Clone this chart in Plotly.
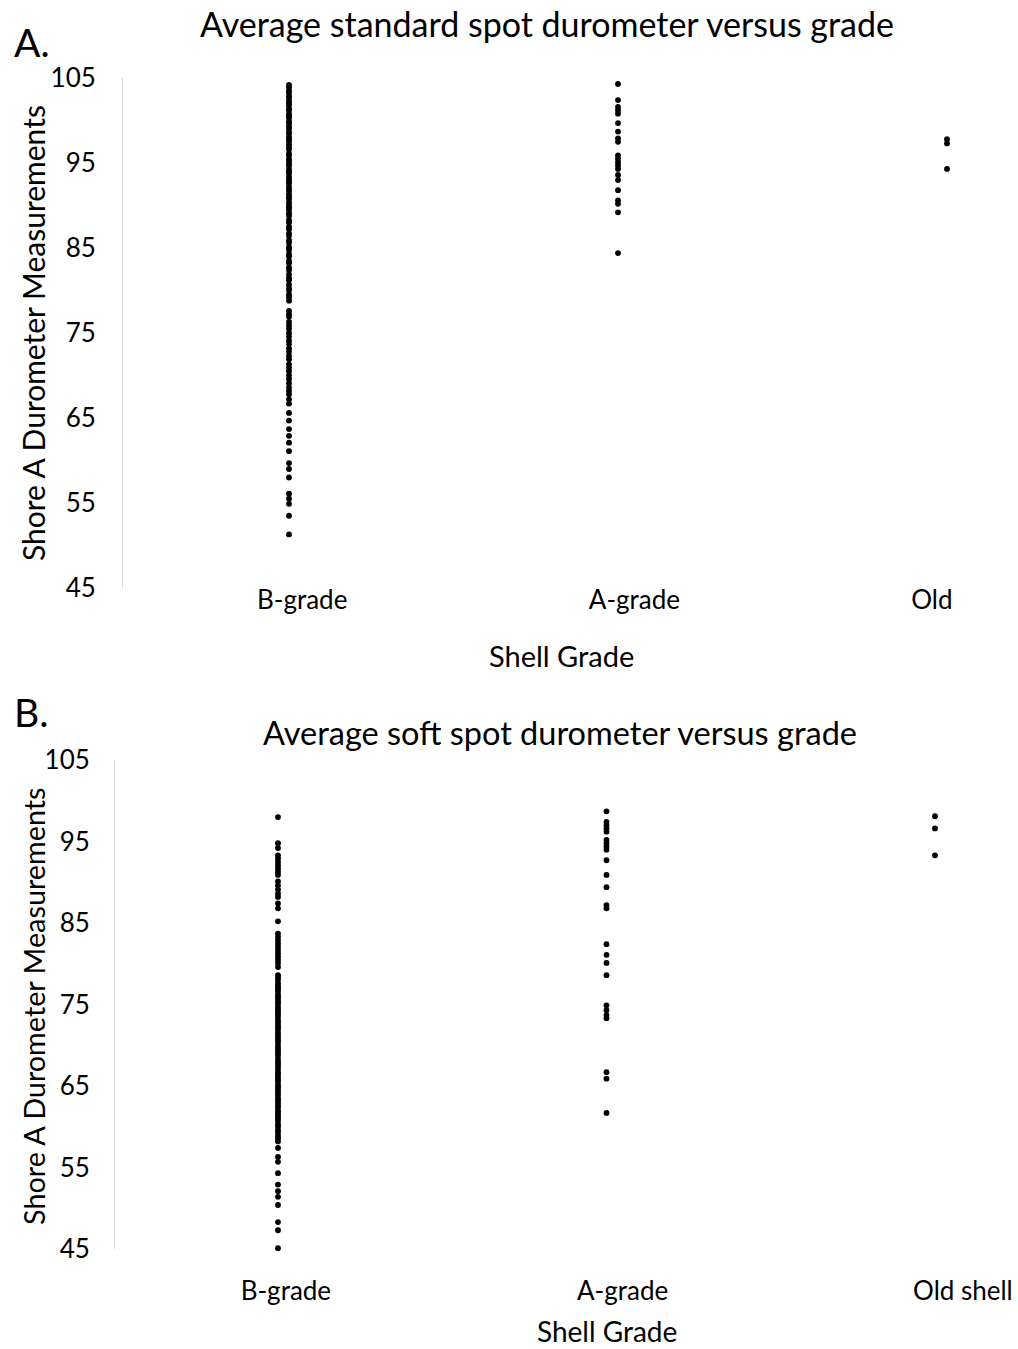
import plotly.graph_objects as go

# ---------------- data ----------------
categories_a = ["B-grade", "A-grade", "Old"]
categories_b = ["B-grade", "A-grade", "Old shell"]

# Panel A: average standard spot durometer
std_b_grade = [
    104.2, 103.9, 103.5, 103.3, 102.9, 102.7, 102.3, 102.1, 101.8, 101.4,
    101.2, 100.8, 100.5, 100.3, 99.9, 99.7, 99.3, 99.1, 98.7, 98.5,
    98.1, 97.8, 97.6, 97.2, 96.9, 96.6, 96.1, 95.9, 95.5, 95.2,
    94.9, 94.7, 94.3, 94.0, 93.8, 93.4, 93.1, 92.8, 92.6, 92.2,
    91.9, 91.7, 91.3, 91.0, 90.8, 90.4, 90.1, 89.8, 89.5, 89.1,
    88.8, 88.3, 88.0, 87.5, 87.2, 86.7, 86.4, 85.9, 85.6, 85.1,
    84.8, 84.3, 84.0, 83.5, 83.2, 82.7, 82.4, 81.9, 81.5, 81.2,
    80.7, 80.3, 80.0, 79.5, 79.2, 78.8,
    77.6, 77.2, 76.9, 76.3, 75.9, 75.5, 75.0, 74.6, 74.1, 73.7,
    73.2, 72.8, 72.3, 71.9, 71.3, 70.9, 70.5, 70.0, 69.6, 69.1,
    68.6, 68.2, 67.8, 67.2, 66.7,
    65.6, 64.7, 63.7, 62.9, 62.1, 61.1, 59.7, 59.0, 58.0, 56.1,
    55.5, 54.9, 53.5, 51.3,
]
std_a_grade = [
    104.3, 102.4, 101.6, 101.2, 100.8, 99.7, 98.7, 97.9, 97.5, 95.9,
    95.5, 95.1, 94.7, 94.3, 93.6, 93.0, 91.8, 90.6, 90.2, 89.2, 84.4,
]
std_old = [97.8, 97.3, 94.3]

# Panel B: average soft spot durometer
soft_b_grade = [
    98.0, 94.8, 94.2, 93.3, 92.9, 92.5, 92.1, 91.7, 91.3, 90.9,
    90.1, 89.6, 89.1, 88.6, 88.2, 87.4, 86.8, 85.2,
    83.7, 83.3, 82.9, 82.5, 82.1, 81.7, 81.3, 80.9, 80.5, 80.1, 79.6,
    78.6, 78.3, 78.0, 77.6, 77.3, 77.0, 76.7, 76.3, 76.0, 75.7,
    75.4, 75.1, 74.7, 74.4, 74.1, 73.8, 73.5, 73.1, 72.8, 72.5,
    72.2, 71.9, 71.5, 71.2, 70.9, 70.6, 70.3, 69.9, 69.6, 69.3,
    69.0, 68.7, 68.3, 68.0, 67.7, 67.4, 67.1, 66.7, 66.4, 66.1,
    65.8, 65.5, 65.1, 64.8, 64.5, 64.2, 63.9, 63.5, 63.2, 62.9,
    62.6, 62.3, 61.9, 61.6, 61.3, 61.0, 60.7, 60.3, 60.0, 59.6,
    59.3, 58.9, 58.6, 58.2,
    57.4, 56.3, 55.7, 54.3, 52.9, 52.1, 51.4, 50.4, 48.3, 47.3, 45.1,
]
soft_a_grade = [
    98.7, 97.4, 97.0, 96.6, 96.2, 95.2, 94.8, 94.4, 94.0, 92.7,
    90.9, 89.4, 87.2, 86.8, 82.4, 81.1, 80.1, 78.6, 74.9, 74.3,
    73.7, 73.3, 66.7, 65.9, 61.7,
]
soft_old = [98.1, 96.6, 93.3]

# ---------------- layout helpers ----------------
W, H = 1018, 1349
FONT = "Lato, 'Open Sans', sans-serif"


def px(x):
    return x / W


def py(y):
    return 1 - y / H


fig = go.Figure()

marker = dict(color="black", size=5.8, line=dict(width=0))

panel_a = [std_b_grade, std_a_grade, std_old]
panel_b = [soft_b_grade, soft_a_grade, soft_old]

for i, vals in enumerate(panel_a):
    fig.add_trace(go.Scatter(
        x=[i + 1] * len(vals), y=vals, mode="markers", marker=marker,
        xaxis="x", yaxis="y", showlegend=False, name=categories_a[i],
        cliponaxis=False))

for i, vals in enumerate(panel_b):
    fig.add_trace(go.Scatter(
        x=[i + 1] * len(vals), y=vals, mode="markers", marker=marker,
        xaxis="x2", yaxis="y2", showlegend=False, name=categories_b[i],
        cliponaxis=False))

tickfont = dict(family=FONT, size=26, color="black")

ax_common = dict(showgrid=False, zeroline=False, ticks="", automargin=False)

fig.update_layout(
    template="none",
    width=W, height=H,
    margin=dict(l=0, r=0, t=0, b=0, autoexpand=False),
    paper_bgcolor="white", plot_bgcolor="white",
    font=dict(family=FONT, color="black"),
    xaxis=dict(
        domain=[px(123), 1], range=[0.4954, 3.2158], anchor="y",
        tickmode="array", tickvals=[1.04, 2.05, 2.954], ticktext=categories_a,
        tickfont=tickfont, showline=False, ticklabelstandoff=-6, **ax_common),
    yaxis=dict(
        domain=[py(588), py(78)], range=[45, 105], anchor="x",
        tickmode="linear", tick0=45, dtick=10, tickfont=tickfont,
        showline=True, linecolor="#d9d9d9", linewidth=1,
        ticklabelstandoff=21, **ax_common),
    xaxis2=dict(
        domain=[px(115), 1], range=[0.5038, 3.2527], anchor="y2",
        tickmode="array", tickvals=[1.024, 2.049, 3.085], ticktext=categories_b,
        tickfont=tickfont, showline=False, ticklabelstandoff=24, **ax_common),
    yaxis2=dict(
        domain=[py(1249), py(760)], range=[45, 105], anchor="x2",
        tickmode="linear", tick0=45, dtick=10, tickfont=tickfont,
        showline=True, linecolor="#d9d9d9", linewidth=1,
        ticklabelstandoff=19, **ax_common),
)

ann = [
    dict(text="A.", x=px(12), y=py(42), xanchor="left", yanchor="middle", size=39),
    dict(text="Average standard spot durometer versus grade", x=px(547), y=py(23),
         xanchor="center", yanchor="middle", size=34),
    dict(text="Shore A Durometer Measurements", x=px(33), y=py(333),
         xanchor="center", yanchor="middle", size=30, angle=-90),
    dict(text="Shell Grade", x=px(561), y=py(655), xanchor="center", yanchor="middle", size=29),
    dict(text="B.", x=px(12), y=py(712), xanchor="left", yanchor="middle", size=39),
    dict(text="Average soft spot durometer versus grade", x=px(560), y=py(732),
         xanchor="center", yanchor="middle", size=32.5),
    dict(text="Shore A Durometer Measurements", x=px(34), y=py(1006),
         xanchor="center", yanchor="middle", size=28.8, angle=-90),
    dict(text="Shell Grade", x=px(607), y=py(1331), xanchor="center", yanchor="middle", size=28),
]

for a in ann:
    fig.add_annotation(
        text=a["text"], x=a["x"], y=a["y"], xref="paper", yref="paper",
        xanchor=a["xanchor"], yanchor=a["yanchor"], showarrow=False,
        textangle=a.get("angle", 0),
        font=dict(family=FONT, size=a["size"], color="black"))

# remove the browser's default page margin so the figure fills the window exactly
fig.write_html("out.html", config={"displayModeBar": False},
               post_script="document.body.style.margin='0px';")
